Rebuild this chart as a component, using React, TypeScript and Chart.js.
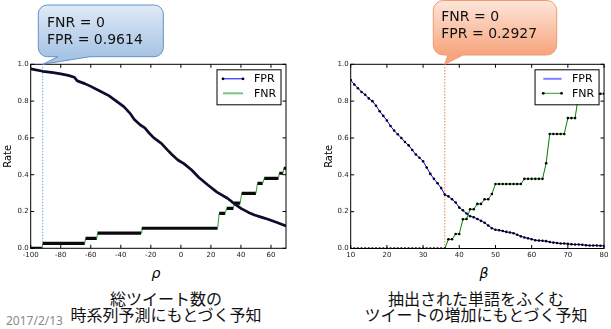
import React, { useEffect, useRef } from 'react';
import { Chart, registerables } from 'chart.js';

Chart.register(...registerables);

// ---------- Left chart (rho) ----------
const rhoFprX = [-100, -92, -85, -80, -75, -71, -69, -64, -60, -54, -48, -43, -38, -34, -31, -27, -24, -21, -18, -13, -9, -6, -2, 2, 7, 12, 18, 24, 31, 36, 40, 45, 49, 54, 58, 64, 70];
const rhoFprY = [0.975, 0.962, 0.955, 0.948, 0.94, 0.93, 0.91, 0.895, 0.88, 0.855, 0.83, 0.8, 0.77, 0.735, 0.7, 0.67, 0.655, 0.625, 0.6, 0.57, 0.535, 0.51, 0.48, 0.46, 0.427, 0.385, 0.344, 0.305, 0.272, 0.24, 0.217, 0.195, 0.181, 0.168, 0.158, 0.14, 0.121];
// FNR steps: [start, end, value]
const rhoFnrSteps: [number, number, number][] = [
  [-100, -92.5, 0], [-92, -64, 0.027], [-63.5, -56, 0.054], [-55.5, -26.5, 0.082],
  [-26, 24.5, 0.109], [25.5, 29.5, 0.19], [30.5, 35, 0.217], [35.5, 39.5, 0.245],
  [40.5, 50, 0.299], [51, 54.5, 0.353], [55.5, 65, 0.38], [65.5, 68, 0.408], [68.5, 70, 0.435],
];
const rhoMarker = -92;

// ---------- Right chart (beta) ----------
const betaValues = [10, 11, 12, 13, 14, 15, 16, 17, 18, 19, 20, 21, 22, 23, 24, 25, 26, 27, 28, 29, 30, 31, 32, 33, 34, 35, 36, 37, 38, 39, 40, 41, 42, 43, 44, 45, 46, 47, 48, 49, 50, 51, 52, 53, 54, 55, 56, 57, 58, 59, 60, 61, 62, 63, 64, 65, 66, 67, 68, 69, 70, 71, 72, 73, 74, 75, 76, 77, 78, 79, 80];
const betaFpr = [0.915, 0.89, 0.87, 0.85, 0.835, 0.815, 0.8, 0.775, 0.745, 0.72, 0.695, 0.665, 0.64, 0.62, 0.6, 0.578, 0.56, 0.535, 0.51, 0.493, 0.473, 0.44, 0.405, 0.378, 0.354, 0.328, 0.2927, 0.283, 0.267, 0.25, 0.222, 0.207, 0.19, 0.175, 0.17, 0.16, 0.15, 0.14, 0.125, 0.11, 0.102, 0.099, 0.095, 0.09, 0.087, 0.083, 0.075, 0.066, 0.06, 0.055, 0.05, 0.045, 0.043, 0.042, 0.04, 0.035, 0.032, 0.03, 0.027, 0.027, 0.025, 0.023, 0.022, 0.022, 0.02, 0.018, 0.016, 0.016, 0.016, 0.015, 0.015];
const betaFnr = [0, 0, 0, 0, 0, 0, 0, 0, 0, 0, 0, 0, 0, 0, 0, 0, 0, 0, 0, 0, 0, 0, 0, 0, 0, 0, 0, 0.05, 0.05, 0.079, 0.079, 0.159, 0.16, 0.213, 0.213, 0.242, 0.242, 0.267, 0.267, 0.296, 0.35, 0.35, 0.35, 0.35, 0.35, 0.35, 0.35, 0.35, 0.378, 0.378, 0.378, 0.378, 0.378, 0.378, 0.463, 0.622, 0.622, 0.622, 0.622, 0.622, 0.708, 0.708, 0.708, 0.84, 0.84, 0.84, 0.84, 0.84, 0.84, 0.84, 0.84];
const betaMarker = 36;

const rateMin = 0;
const rateMax = 1;
const rateStep = 0.2;

const MPL = '"DejaVu Sans", sans-serif';

function drawCallout(ctx: CanvasRenderingContext2D, o: any, tipX: number, tipY: number) {
  const { x, y, w, h, r, bx1, bx2, c1, c2, stroke } = o;
  ctx.save();
  ctx.beginPath();
  ctx.moveTo(x + r, y);
  ctx.lineTo(x + w - r, y);
  ctx.arcTo(x + w, y, x + w, y + r, r);
  ctx.lineTo(x + w, y + h - r);
  ctx.arcTo(x + w, y + h, x + w - r, y + h, r);
  ctx.lineTo(bx2, y + h);
  ctx.lineTo(tipX, tipY);
  ctx.lineTo(bx1, y + h);
  ctx.lineTo(x + r, y + h);
  ctx.arcTo(x, y + h, x, y + h - r, r);
  ctx.lineTo(x, y + r);
  ctx.arcTo(x, y, x + r, y, r);
  ctx.closePath();
  const g = ctx.createLinearGradient(0, y, 0, y + h);
  g.addColorStop(0, c1);
  g.addColorStop(1, c2);
  ctx.fillStyle = g;
  ctx.fill();
  ctx.strokeStyle = stroke;
  ctx.lineWidth = 1;
  ctx.stroke();
  ctx.restore();
}

const framePlugin = {
  id: 'frame',
  afterDatasetsDraw(chart: any, _args: any, opts: any) {
    const { ctx, chartArea: a, scales } = chart;
    ctx.save();
    ctx.strokeStyle = '#000';
    ctx.lineWidth = 1;
    ctx.strokeRect(a.left, a.top, a.right - a.left, a.bottom - a.top);
    const L = 3.5;
    ctx.beginPath();
    scales.x.ticks.forEach((t: any) => {
      const px = scales.x.getPixelForValue(t.value);
      ctx.moveTo(px, a.bottom); ctx.lineTo(px, a.bottom - L);
      ctx.moveTo(px, a.top); ctx.lineTo(px, a.top + L);
    });
    scales.y.ticks.forEach((t: any) => {
      const py = scales.y.getPixelForValue(t.value);
      ctx.moveTo(a.left, py); ctx.lineTo(a.left + L, py);
      ctx.moveTo(a.right, py); ctx.lineTo(a.right - L, py);
    });
    ctx.stroke();

    // legend inside plot, upper right
    const lw = 64, lh = 35;
    const lx = a.right - 5.5 - lw;
    const ly = a.top + 5;
    ctx.fillStyle = '#fff';
    ctx.fillRect(lx, ly, lw, lh);
    ctx.strokeStyle = '#000';
    ctx.lineWidth = 1;
    ctx.strokeRect(lx + 0.5, ly + 0.5, lw, lh);
    const entries = opts.entries as any[];
    entries.forEach((e: any, i: number) => {
      const ry = ly + 9.5 + i * 14.5;
      const sx1 = lx + opts.sampleX1, sx2 = lx + opts.sampleX2;
      ctx.strokeStyle = e.color;
      ctx.lineWidth = e.width;
      ctx.beginPath();
      ctx.moveTo(sx1, ry); ctx.lineTo(sx2, ry);
      ctx.stroke();
      if (e.markers) {
        ctx.fillStyle = '#000';
        ctx.beginPath(); ctx.arc(sx1, ry, 1.4, 0, Math.PI * 2); ctx.fill();
        ctx.beginPath(); ctx.arc(sx2, ry, 1.4, 0, Math.PI * 2); ctx.fill();
      }
      ctx.fillStyle = '#000';
      ctx.font = '11px ' + MPL;
      ctx.textBaseline = 'middle';
      ctx.textAlign = 'left';
      ctx.fillText(chart.data.datasets[e.ds].label, lx + 37.5, ry + 0.5);
    });
    ctx.restore();
  },
  afterDraw(chart: any, _args: any, opts: any) {
    const { ctx, chartArea: a, scales } = chart;
    const tipX = scales.x.getPixelForValue(opts.callout.tipValue);
    drawCallout(ctx, opts.callout, tipX, a.top);
  },
};

function makeOptions(cfg: any) {
  return {
    animation: false,
    responsive: false,
    maintainAspectRatio: false,
    layout: { padding: cfg.padding },
    plugins: {
      legend: { display: false },
      tooltip: { enabled: false },
      frame: cfg.frame,
    },
    scales: {
      x: {
        type: 'linear',
        min: cfg.xMin,
        max: cfg.xMax,
        ticks: {
          stepSize: cfg.xStep,
          includeBounds: false,
          autoSkip: false,
          maxRotation: 0,
          padding: 2.5,
          color: '#222',
          font: { family: MPL, size: 7 },
        },
        grid: { display: false, drawTicks: false },
        border: { display: false },
        afterFit: (s: any) => { s.height = cfg.xHeight; },
      },
      y: {
        type: 'linear',
        min: rateMin,
        max: rateMax,
        ticks: {
          stepSize: rateStep,
          padding: 2,
          color: '#222',
          font: { family: MPL, size: 7 },
          callback: (v: any) => Number(v).toFixed(1),
        },
        title: {
          display: true,
          text: 'Rate',
          color: '#000',
          font: { family: MPL, size: 10 },
          padding: { top: 2, bottom: 0 },
        },
        grid: { display: false, drawTicks: false },
        border: { display: false },
        afterFit: (s: any) => { s.width = cfg.yWidth; },
      },
    },
  };
}

function LeftChart() {
  const ref = useRef<HTMLCanvasElement>(null);
  useEffect(() => {
    const fprData = rhoFprX.map((x, i) => ({ x, y: rhoFprY[i] }));
    const fnrData: { x: number; y: number }[] = [];
    rhoFnrSteps.forEach(([s, e, v]) => { fnrData.push({ x: s, y: v }); fnrData.push({ x: e, y: v }); });
    const chart = new Chart(ref.current as HTMLCanvasElement, {
      type: 'line',
      data: {
        datasets: [
          {
            label: 'FPR', data: fprData, borderColor: '#0c0c2c', borderWidth: 2.7,
            pointRadius: 0, tension: 0, borderJoinStyle: 'round',
          },
          {
            label: 'FNR', data: fnrData, borderColor: '#2ca02c', borderWidth: 1, pointRadius: 0,
            borderCapStyle: 'butt',
            segment: {
              borderColor: (c: any) => (c.p0.parsed.y === c.p1.parsed.y ? '#0a0a0a' : '#2ca02c'),
              borderWidth: (c: any) => (c.p0.parsed.y === c.p1.parsed.y ? 3.2 : 1),
            },
          },
          {
            label: 'marker', data: [{ x: rhoMarker, y: rateMin }, { x: rhoMarker, y: rateMax }],
            borderColor: '#6fa8dc', borderWidth: 1, borderDash: [1.5, 1.5], pointRadius: 0,
          },
        ],
      } as any,
      options: makeOptions({
        padding: { left: 0, right: 19, top: 64.3, bottom: 2 },
        xMin: -100, xMax: 70, xStep: 20, xHeight: 11.7, yWidth: 30.7,
        frame: {
          sampleX1: 6.5, sampleX2: 26.5,
          entries: [
            { ds: 0, color: '#0000ff', width: 1, markers: true },
            { ds: 1, color: '#7cc47c', width: 2, markers: false },
          ],
          callout: {
            x: 38.3, y: 5, w: 125, h: 51.7, r: 9, bx1: 58, bx2: 90,
            c1: '#dfeaf6', c2: '#a6c4e4', stroke: '#6791c4', tipValue: rhoMarker,
          },
        },
      }) as any,
      plugins: [framePlugin as any],
    });
    return () => chart.destroy();
  }, []);
  return (
    <canvas ref={ref} width={305} height={262}
      style={{ position: 'absolute', left: 0, top: 0, width: 305, height: 262 }} />
  );
}

function RightChart() {
  const ref = useRef<HTMLCanvasElement>(null);
  useEffect(() => {
    const fprData = betaValues.map((x, i) => ({ x, y: betaFpr[i] }));
    const fnrData = betaValues.map((x, i) => ({ x, y: betaFnr[i] }));
    const chart = new Chart(ref.current as HTMLCanvasElement, {
      type: 'line',
      data: {
        datasets: [
          {
            label: 'FPR', data: fprData, borderColor: '#0000ff', borderWidth: 1,
            pointRadius: 1.3, pointBackgroundColor: '#000', pointBorderWidth: 0, tension: 0,
          },
          {
            label: 'FNR', data: fnrData, borderColor: '#008000', borderWidth: 1,
            pointRadius: 1.3, pointBackgroundColor: '#000', pointBorderWidth: 0, tension: 0,
          },
          {
            label: 'marker', data: [{ x: betaMarker, y: rateMin }, { x: betaMarker, y: rateMax }],
            borderColor: '#f0822e', borderWidth: 1, borderDash: [1.5, 1.5], pointRadius: 0,
          },
        ],
      } as any,
      options: makeOptions({
        padding: { left: 0, right: 5, top: 64.3, bottom: 2 },
        xMin: 10, xMax: 80, xStep: 10, xHeight: 11.5, yWidth: 29.7,
        frame: {
          sampleX1: 8.7, sampleX2: 27,
          entries: [
            { ds: 0, color: '#8080ff', width: 2, markers: false },
            { ds: 1, color: '#2e9a2e', width: 1, markers: true },
          ],
          callout: {
            x: 112.3, y: 0.5, w: 123.4, h: 54.5, r: 10, bx1: 127, bx2: 142,
            c1: '#fee6da', c2: '#f7a47c', stroke: '#f09a70', tipValue: betaMarker,
          },
        },
      }) as any,
      plugins: [framePlugin as any],
    });
    return () => chart.destroy();
  }, []);
  return (
    <canvas ref={ref} width={290} height={262}
      style={{ position: 'absolute', left: 321, top: 0, width: 290, height: 262 }} />
  );
}

const calloutText: React.CSSProperties = {
  position: 'absolute', font: '14px "DejaVu Sans", sans-serif', lineHeight: '17px',
  color: '#111', whiteSpace: 'pre', pointerEvents: 'none',
};
const caption: React.CSSProperties = {
  position: 'absolute', width: 260, textAlign: 'center',
  font: '16px "Noto Sans CJK JP", sans-serif', lineHeight: '16px', color: '#111', whiteSpace: 'nowrap',
};
const axisTitle: React.CSSProperties = {
  position: 'absolute', width: 40, textAlign: 'center',
  font: 'italic 14px "DejaVu Sans", sans-serif', lineHeight: '14px', color: '#000',
};

export default function App() {
  return (
    <div style={{ position: 'fixed', left: 0, top: 0, width: 611, height: 329, background: '#fff', overflow: 'hidden' }}>
      <LeftChart />
      <RightChart />
      <div style={{ ...calloutText, left: 47, top: 14 }}>{'FNR = 0\nFPR = 0.9614'}</div>
      <div style={{ ...calloutText, left: 441.3, top: 8.4 }}>{'FNR = 0\nFPR = 0.2927'}</div>
      <div style={{ ...axisTitle, left: 156 - 20, top: 266 }}>ρ</div>
      <div style={{ ...axisTitle, left: 484 - 20, top: 266 }}>β</div>
      <div style={{ ...caption, left: 166 - 130, top: 290 }}>総ツイート数の<br />時系列予測にもとづく予知</div>
      <div style={{ ...caption, left: 476 - 130, top: 290 }}>抽出された単語をふくむ<br />ツイートの増加にもとづく予知</div>
      <div style={{ position: 'absolute', left: 6, top: 312, font: '12px "Noto Sans", sans-serif', color: '#8a8a8a' }}>2017/2/13</div>
    </div>
  );
}
